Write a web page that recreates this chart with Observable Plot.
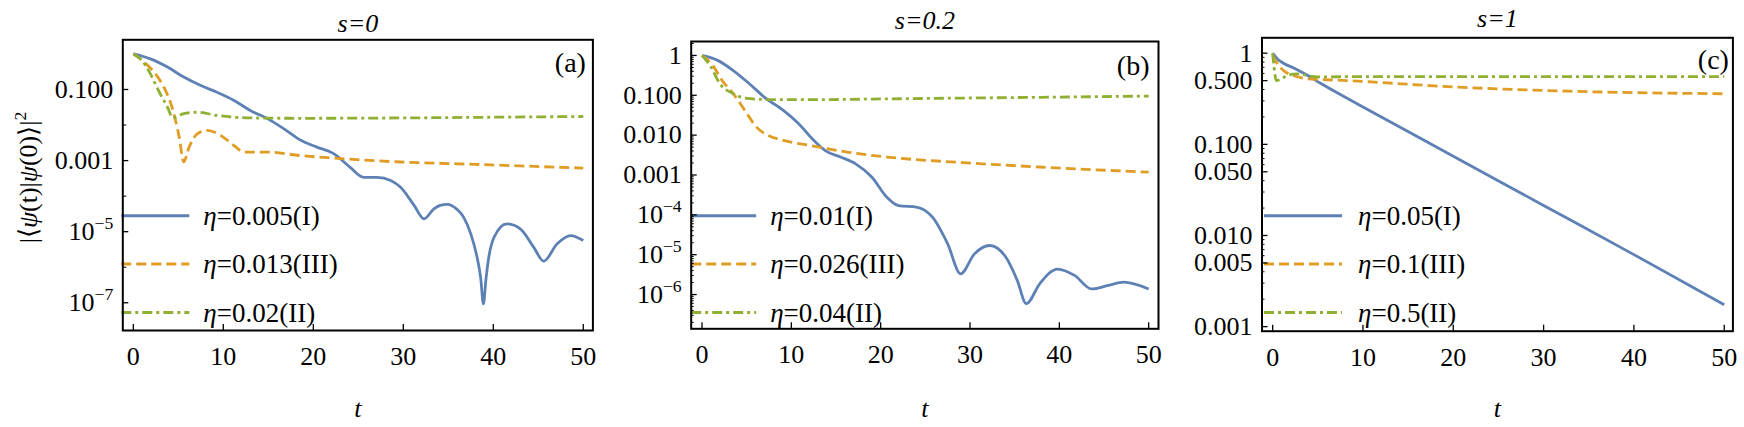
<!DOCTYPE html>
<html><head><meta charset="utf-8">
<script src="https://cdn.jsdelivr.net/npm/d3@7"></script>
<script src="https://cdn.jsdelivr.net/npm/@observablehq/plot@0.6"></script>
<style>
body{margin:0;background:#fff}
#chart{position:relative;width:1744px;height:427px;overflow:hidden}
#chart > .panel{position:absolute;top:0}
</style>
</head><body><div id="chart"></div>
<script>
// ---------------- data (log10 of |<psi(t)|psi(0)>|^2) ----------------
// Panel (a) s = 0
const a_I_t   = [0,1.9,3.8,5.6,7.5,9.3,11.2,13,14.9,16.7,18.6,20.4,22.3,24.1,25.6,27.1,28.6,29.7,31.2,32.3,33.4,34.1,34.9,36,36.7,37.5,38.2,38.6,38.9,39.2,39.5,40.1,41.5,43,44.5,45.6,47.1,48.6,50];
const a_I_lg  = [0,-0.14,-0.37,-0.65,-0.89,-1.08,-1.31,-1.59,-1.82,-2.1,-2.43,-2.62,-2.81,-3.19,-3.47,-3.47,-3.56,-3.75,-4.26,-4.64,-4.36,-4.26,-4.23,-4.38,-4.59,-5.06,-5.72,-6.3,-7.03,-6.3,-5.72,-5.15,-4.78,-4.92,-5.44,-5.83,-5.34,-5.11,-5.25];
const a_III_t  = [0,1.2,2.3,3.4,4.3,5.1,5.6,6.2,7.1,8.2,9.7,11.2,12.3,14.9,18.6,22.3,29.7,36,43,50];
const a_III_lg = [0,-0.23,-0.51,-0.94,-1.5,-2.34,-3.04,-2.62,-2.25,-2.15,-2.29,-2.58,-2.76,-2.76,-2.86,-2.93,-3.04,-3.09,-3.15,-3.21];
const a_II_t  = [0,0.8,1.9,2.8,3.8,4.4,5.6,7.1,9.3,13,18.6,29.7,40,50];
const a_II_lg = [0,-0.14,-0.56,-1.03,-1.5,-1.8,-1.68,-1.64,-1.73,-1.8,-1.81,-1.8,-1.78,-1.76];
const a_labels = ["η=0.005(I)","η=0.013(III)","η=0.02(II)"];

// Panel (b) s = 0.2
const b_I_t   = [0,1.8,3.5,5.3,7,9.1,10.8,12.5,13.8,15.5,17.2,19,20.7,22,24.1,25.8,27.5,28.95,30.5,32.2,34,35.3,36.3,37.8,39.8,41.7,43.6,45.5,47.2,50];
const b_I_lg  = [0,-0.13,-0.38,-0.71,-1.05,-1.38,-1.71,-2.13,-2.39,-2.55,-2.72,-3.05,-3.56,-3.77,-3.81,-4.06,-4.73,-5.48,-4.98,-4.77,-5.06,-5.65,-6.23,-5.73,-5.36,-5.52,-5.86,-5.77,-5.69,-5.86];
const b_III_t  = [0,1.2,2.25,3.5,4.8,6.1,7.4,9.1,12.1,16.4,20.7,29.2,37.8,50];
const b_III_lg = [0,-0.25,-0.63,-0.96,-1.38,-1.8,-2.01,-2.13,-2.26,-2.43,-2.55,-2.69,-2.8,-2.93];
const b_II_t  = [0,1,2,3.5,4.8,7.8,12.1,20.7,29,38,50];
const b_II_lg = [0,-0.29,-0.71,-0.96,-1.07,-1.11,-1.11,-1.09,-1.07,-1.05,-1.02];
const b_labels = ["η=0.01(I)","η=0.026(III)","η=0.04(II)"];

// Panel (c) s = 1
const c_I_t   = [0,0.5,1.2,2.5,3.8,5.3,10,20,30,40,50];
const c_I_lg  = [0,-0.06,-0.11,-0.17,-0.24,-0.33,-0.59,-1.13,-1.67,-2.21,-2.76];
const c_III_t  = [0,0.3,1.2,2.3,3.8,8.2,20.6,32.9,50];
const c_III_lg = [-0.02,-0.08,-0.19,-0.245,-0.28,-0.3,-0.373,-0.417,-0.445];
const c_II_t  = [0,0.15,0.4,0.8,1.5,2.7,4.9,10,50];
const c_II_lg = [0,-0.15,-0.3,-0.29,-0.25,-0.226,-0.26,-0.256,-0.256];
const c_labels = ["η=0.05(I)","η=0.1(III)","η=0.5(II)"];

// titles, tags, ticks
const titles = ["s=0","s=0.2","s=1"];
const tags = ["(a)","(b)","(c)"];
const xTicks = [0,10,20,30,40,50];
const yLabelText = "|⟨ψ(t)|ψ(0)⟩|^{2}";
const xLabelText = "t";
const a_yTicks = [0.1,0.001,1e-5,1e-7];
const a_yTickLabels = ["0.100","0.001","10^{−5}","10^{−7}"];
const a_yMinor = [0.01,1e-4,1e-6];
const b_yTicks = [1,0.1,0.01,0.001,1e-4,1e-5,1e-6];
const b_yTickLabels = ["1","0.100","0.010","0.001","10^{−4}","10^{−5}","10^{−6}"];
const c_yTicks = [1,0.5,0.1,0.05,0.01,0.005,0.001];
const c_yTickLabels = ["1","0.500","0.100","0.050","0.010","0.005","0.001"];

// ---------------- helpers ----------------
const toRows = (t, lg) => t.map((tt, i) => ({t: tt, v: Math.pow(10, lg[i])}));
function minorDecades(kFrom, kTo, mults) {
  const out = [];
  for (let k = kFrom; k <= kTo; k++) for (const m of mults) out.push(m * Math.pow(10, k));
  return out;
}
const b_yMinor = minorDecades(-7, 0, [2,3,4,5,6,7,8,9]);
const c_yMinor = minorDecades(-3, -1, [2,3,4,6,7,8,9]);

const styles = [
  {stroke: "#5E81B5", dash: null},
  {stroke: "#E19C24", dash: "10,5"},
  {stroke: "#8FB032", dash: "10,4,3,4"}
];
const hline = {draw(ctx, l) { ctx.moveTo(0, 0); ctx.lineTo(0, -l); }};

const panels = [
  {left: 0, width: 600, mt: 39.3, mb: 97, ml: 122.3, mr: 7.6, xDom: [-1.17, 51.07], yExp: [-7.78, 0.398],
   series: [toRows(a_I_t, a_I_lg), toRows(a_III_t, a_III_lg), toRows(a_II_t, a_II_lg)], labels: a_labels,
   yTicks: a_yTicks, yTickLabels: a_yTickLabels, yMinor: a_yMinor, minorLen: 4,
   legStart: -1.5, legLen: 68, legText: 80.5, titleBase: 31, tagBase: 71, tagDx: -7, ylabel: true},
  {left: 600, width: 570, mt: 41, mb: 98.7, ml: 90.7, mr: 12, xDom: [-1.21, 51.1], yExp: [-6.86, 0.35],
   series: [toRows(b_I_t, b_I_lg), toRows(b_III_t, b_III_lg), toRows(b_II_t, b_II_lg)], labels: b_labels,
   yTicks: b_yTicks, yTickLabels: b_yTickLabels, yMinor: b_yMinor, minorLen: 3,
   legStart: 0, legLen: 65, legText: 79, titleBase: 28.5, tagBase: 74, tagDx: -9, ylabel: false},
  {left: 1170, width: 574, mt: 37.3, mb: 96.3, ml: 91.5, mr: 11.6, xDom: [-1.18, 50.96], yExp: [-3.05, 0.169],
   series: [toRows(c_I_t, c_I_lg), toRows(c_III_t, c_III_lg), toRows(c_II_t, c_II_lg)], labels: c_labels,
   yTicks: c_yTicks, yTickLabels: c_yTickLabels, yMinor: c_yMinor, minorLen: 3,
   legStart: 2, legLen: 78, legText: 96, titleBase: 26.5, tagBase: 68, tagDx: -4, ylabel: false}
];

const legendRows = [215.3, 263.5, 312];

function richify(root) {
  const NS = "http://www.w3.org/2000/svg";
  root.querySelectorAll("text").forEach(el => {
    if (el.querySelector("tspan")) return;
    const s = el.textContent;
    if (!/[\^ηψ]/.test(s)) return;
    el.textContent = "";
    const re = /\^\{([^}]*)\}|([ηψ])|([^\^ηψ]+)/g;
    let m;
    while ((m = re.exec(s))) {
      const ts = document.createElementNS(NS, "tspan");
      if (m[1] !== undefined) { ts.textContent = m[1]; ts.setAttribute("font-size", "68%"); ts.setAttribute("dy", "-0.62em"); }
      else if (m[2]) { ts.textContent = m[2]; ts.setAttribute("font-style", "italic"); }
      else ts.textContent = m[3];
      el.appendChild(ts);
    }
  });
}

const chart = document.getElementById("chart");
panels.forEach((p, pi) => {
  const H = 427;
  const plotH = H - p.mt - p.mb;
  const plotW = p.width - p.ml - p.mr;
  const yMin = Math.pow(10, p.yExp[0]), yMax = Math.pow(10, p.yExp[1]);
  const minor = p.yMinor.filter(v => v >= yMin && v <= yMax);
  const yLabelRows = p.yTicks.map((v, i) => ({v, lab: p.yTickLabels[i]}));
  const marks = [];
  // curves
  p.series.forEach((rows, si) => {
    marks.push(Plot.line(rows, {x: "t", y: "v", stroke: styles[si].stroke, strokeWidth: 2.8,
      strokeDasharray: styles[si].dash || undefined, strokeLinecap: "butt", curve: "monotone-x"}));
  });
  // legend
  p.labels.forEach((lab, si) => {
    const dy = legendRows[si] - p.mt;
    marks.push(Plot.vector([0], {frameAnchor: "top-left", rotate: 90, length: p.legLen, anchor: "start",
      shape: hline, stroke: styles[si].stroke, strokeWidth: 3, strokeDasharray: styles[si].dash || undefined,
      strokeLinecap: "butt", dx: p.legStart, dy}));
    marks.push(Plot.text([lab], {frameAnchor: "top-left", textAnchor: "start", lineAnchor: "middle",
      dx: p.legText, dy: dy + 0.5, fontSize: 27, fill: "black"}));
  });
  // ticks (pointing inward) and tick labels
  marks.push(Plot.tickX(xTicks, {x: d => d, insetTop: plotH - 6, stroke: "black", strokeWidth: 1.3}));
  marks.push(Plot.tickY(p.yTicks, {y: d => d, insetRight: plotW - 6, stroke: "black", strokeWidth: 1.3}));
  marks.push(Plot.tickY(minor, {y: d => d, insetRight: plotW - p.minorLen, stroke: "black", strokeWidth: 1}));
  marks.push(Plot.text(xTicks, {x: d => d, text: d => String(d), frameAnchor: "bottom", lineAnchor: "top", dy: 16, fontSize: 26, fill: "black"}));
  marks.push(Plot.text(yLabelRows, {y: "v", text: "lab", frameAnchor: "left", textAnchor: "end", lineAnchor: "middle", dx: -9.5, fontSize: 26, fill: "black"}));
  marks.push(Plot.frame({stroke: "black", strokeWidth: 2}));
  // title, tag, axis labels
  marks.push(Plot.text([titles[pi]], {frameAnchor: "top", lineAnchor: "bottom", dy: p.titleBase - p.mt, fontStyle: "italic", fontSize: 26, fill: "black"}));
  marks.push(Plot.text([tags[pi]], {frameAnchor: "top-right", textAnchor: "end", lineAnchor: "bottom", dx: p.tagDx, dy: p.tagBase - p.mt, fontSize: 28, fill: "black"}));
  marks.push(Plot.text([xLabelText], {frameAnchor: "bottom", lineAnchor: "bottom", dy: 416 - (H - p.mb), fontStyle: "italic", fontSize: 26, fill: "black"}));
  if (p.ylabel) {
    marks.push(Plot.text([yLabelText], {frameAnchor: "left", rotate: -90, textAnchor: "middle", lineAnchor: "middle", dx: 28.5 - p.ml, dy: 177 - (p.mt + plotH / 2), fontSize: 26, fill: "black"}));
  }
  const svg = Plot.plot({
    width: p.width, height: H,
    marginTop: p.mt, marginBottom: p.mb, marginLeft: p.ml, marginRight: p.mr,
    style: {fontFamily: "'Liberation Serif','Times New Roman',serif", fontSize: "26px", color: "black", background: "transparent", overflow: "visible"},
    x: {domain: p.xDom, axis: null},
    y: {type: "log", domain: [yMin, yMax], axis: null},
    marks
  });
  richify(svg);
  const wrap = document.createElement("div");
  wrap.className = "panel";
  wrap.style.left = p.left + "px";
  wrap.appendChild(svg);
  chart.appendChild(wrap);
});
</script>
</body></html>
